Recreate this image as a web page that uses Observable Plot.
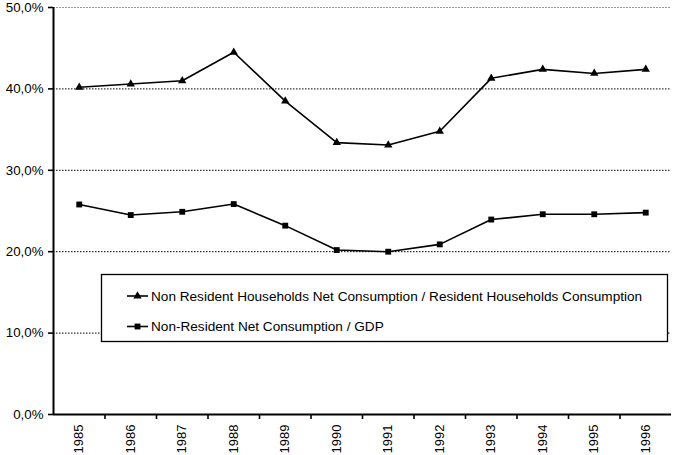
<!DOCTYPE html>
<html>
<head>
<meta charset="utf-8">
<script src="https://cdn.jsdelivr.net/npm/d3@7"></script>
<script src="https://cdn.jsdelivr.net/npm/@observablehq/plot@0.6"></script>
<style>
  html, body { margin: 0; padding: 0; background: #fff; }
  #chart svg { display: block; }
</style>
</head>
<body>
<div id="chart"></div>
<script>
const years = [1985, 1986, 1987, 1988, 1989, 1990, 1991, 1992, 1993, 1994, 1995, 1996];
const householdsShare = [40.2, 40.6, 41.0, 44.5, 38.5, 33.4, 33.1, 34.8, 41.3, 42.4, 41.9, 42.4];
const gdpShare = [25.8, 24.5, 24.9, 25.85, 23.2, 20.2, 20.0, 20.9, 23.95, 24.6, 24.6, 24.8];
const yTicks = [0, 10, 20, 30, 40, 50];
const gridTicks = [10, 20, 30, 40];
const seriesNames = [
  "Non Resident Households Net Consumption / Resident Households Consumption",
  "Non-Resident Net Consumption / GDP"
];

const seriesA = years.map((year, i) => ({year, value: householdsShare[i]}));
const seriesB = years.map((year, i) => ({year, value: gdpShare[i]}));
const boundaries = years.slice(1).map(y => y - 0.5);
const fmt = d => d.toFixed(1).replace(".", ",") + "%";

const W = 673, H = 455;
const chart = Plot.plot({
  width: W,
  height: H,
  marginLeft: 53,
  marginRight: 2,
  marginTop: 7,
  marginBottom: 41,
  style: {fontFamily: "'Liberation Sans', Arial, sans-serif", fontSize: "13px", color: "#000", background: "#fff"},
  x: {type: "linear", domain: [years[0] - 0.5, years[years.length - 1] + 0.5], label: null},
  y: {domain: [0, 50], label: null},
  marks: [
    Plot.ruleY(gridTicks, {stroke: "#000", strokeWidth: 1, strokeDasharray: "1.5,1.5"}),
    Plot.ruleY([50], {stroke: "#999", strokeWidth: 1.2, strokeDasharray: "2,1"}),
    Plot.axisY({ticks: yTicks, tickFormat: fmt, tickSize: 5, tickPadding: 5, fontSize: 13.3, strokeWidth: 1.6, label: null}),
    Plot.axisX({ticks: boundaries, tickFormat: () => "", tickSize: 5, strokeWidth: 1.6, label: null}),
    Plot.text(years, {x: d => d, frameAnchor: "bottom", dy: 10, text: d => String(d), rotate: -90, textAnchor: "end", lineAnchor: "middle", fontSize: 13}),
    Plot.ruleX([years[0] - 0.5], {stroke: "#000", strokeWidth: 2}),
    Plot.ruleY([0], {stroke: "#000", strokeWidth: 2}),
    Plot.line(seriesA, {x: "year", y: "value", stroke: "#000", strokeWidth: 1.6}),
    Plot.dot(seriesA, {x: "year", y: "value", symbol: "triangle", r: 3.1, fill: "#000", stroke: "none"}),
    Plot.line(seriesB, {x: "year", y: "value", stroke: "#000", strokeWidth: 1.6}),
    Plot.dot(seriesB, {x: "year", y: "value", symbol: "square", r: 3.3, fill: "#000", stroke: "none"})
  ]
});
document.getElementById("chart").appendChild(chart);

// legend box drawn inside the plot area
const svg = d3.select(chart);
const lg = svg.append("g").attr("font-family", "'Liberation Sans', Arial, sans-serif").attr("font-size", 13.6).attr("text-anchor", "start");
lg.append("rect").attr("x", 101.5).attr("y", 274.5).attr("width", 566).attr("height", 67)
  .attr("fill", "#fff").attr("stroke", "#000").attr("stroke-width", 1.3);
const symbols = [d3.symbolTriangle, d3.symbolSquare];
const sizes = [3.1 * 3.1 * Math.PI, 3.3 * 3.3 * Math.PI];
seriesNames.forEach((name, i) => {
  const cy = 296 + i * 30.5;
  lg.append("line").attr("x1", 127).attr("x2", 148).attr("y1", cy).attr("y2", cy).attr("stroke", "#000").attr("stroke-width", 1.6);
  lg.append("path").attr("d", d3.symbol(symbols[i], sizes[i])()).attr("transform", `translate(137.5,${cy})`).attr("fill", "#000");
  lg.append("text").attr("x", 151).attr("y", cy).attr("dy", "0.35em").attr("text-anchor", "start").text(name);
});
</script>
</body>
</html>
